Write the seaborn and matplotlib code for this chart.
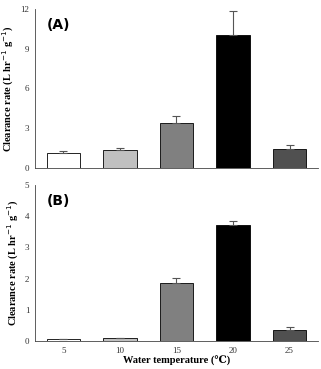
import numpy as np
import pandas as pd
import matplotlib
matplotlib.use("Agg")
import matplotlib.pyplot as plt
import seaborn as sns

temps = ["5", "10", "15", "20", "25"]
rate_a = [1.1, 1.35, 3.4, 10.0, 1.45]
err_a = [0.2, 0.13, 0.5, 1.85, 0.3]
rate_b = [0.07, 0.12, 1.85, 3.72, 0.37]
err_b = [0.0, 0.0, 0.17, 0.13, 0.08]
bar_colors = ["#ffffff", "#c0c0c0", "#808080", "#000000", "#505050"]

sns.set_theme(style="white")
plt.rcParams["font.family"] = ["Liberation Serif", "DejaVu Serif"]
plt.rcParams["text.color"] = "black"
plt.rcParams["axes.labelcolor"] = "black"

fig = plt.figure(figsize=(3.21, 3.69), dpi=100)
ax_a = fig.add_axes([0.109, 0.545, 0.881, 0.431])
ax_b = fig.add_axes([0.109, 0.075, 0.881, 0.424])

panels = [(ax_a, rate_a, err_a, [0, 3, 6, 9, 12], 12, "(A)", False),
          (ax_b, rate_b, err_b, [0, 1, 2, 3, 4, 5], 5, "(B)", True)]

for ax, vals, errs, yt, ymax, tag, show_x in panels:
    df = pd.DataFrame({"temp": temps, "rate": vals})
    sns.barplot(data=df, x="temp", y="rate", hue="temp", palette=bar_colors,
                legend=False, errorbar=None, width=0.59, edgecolor="black",
                linewidth=0.6, ax=ax)
    xs = np.arange(len(vals))
    ax.errorbar(xs, vals, yerr=[np.zeros(len(errs)), errs], fmt="none",
                ecolor="#555555", elinewidth=0.8, capsize=3, capthick=0.8)
    ax.set_xlim(-0.5, 4.5)
    ax.set_ylim(0, ymax)
    ax.set_yticks(yt)
    ax.tick_params(axis="y", labelsize=6.5, length=2, width=0.6, direction="out",
                   pad=2, labelcolor="#333333")
    ax.set_xticks(xs)
    ax.set_xticks(np.arange(-0.5, 5, 1), minor=True)
    ax.tick_params(axis="x", which="major", length=0, labelsize=6.5, pad=4,
                   labelcolor="#333333")
    ax.tick_params(axis="x", which="minor", length=2, width=0.6, direction="out")
    if not show_x:
        ax.set_xticklabels([])
        ax.set_xlabel("")
    else:
        ax.set_xlabel("Water temperature (\u2103)", fontsize=7.5, fontweight="bold",
                      labelpad=1)
    ax.set_ylabel("Clearance rate (L hr$^{-1}$ g$^{-1}$)", fontsize=7.5,
                  fontweight="bold", labelpad=3)
    for s in ["top", "right"]:
        ax.spines[s].set_visible(False)
    for s in ["left", "bottom"]:
        ax.spines[s].set_linewidth(0.6)
        ax.spines[s].set_color("#444444")
    ax.text(0.04, 0.94, tag, transform=ax.transAxes, fontsize=10, color="black",
            fontweight="bold", family="DejaVu Sans", va="top", ha="left")

fig.savefig("out.png", dpi=100)
